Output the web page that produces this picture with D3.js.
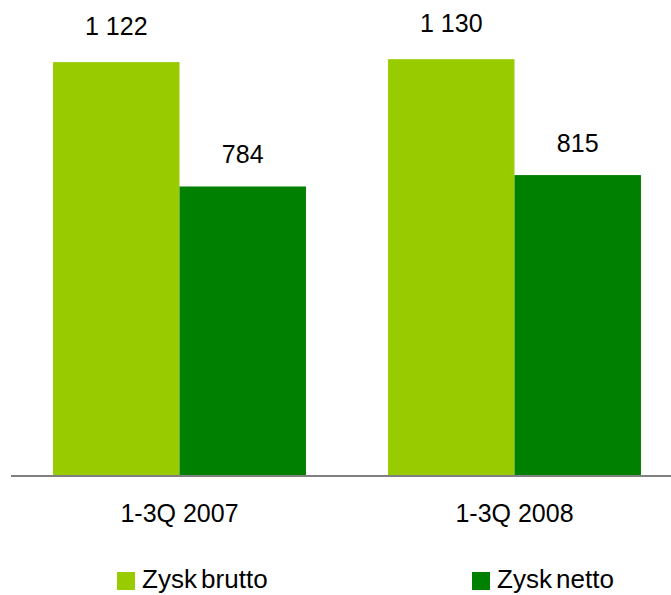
<!DOCTYPE html>
<html>
<head>
<meta charset="utf-8">
<script src="https://cdn.jsdelivr.net/npm/d3@7"></script>
<style>
  body { margin: 0; background: white; }
  text { font-family: "Liberation Sans", Arial, sans-serif; fill: #000; }
</style>
</head>
<body>
<svg id="chart" width="671" height="595"></svg>
<script>
const categories = ["1-3Q 2007", "1-3Q 2008"];
const seriesNames = ["Zysk brutto", "Zysk netto"];
const brutto = [1122, 1130];
const netto = [784, 815];
const valueLabels = [["1 122", "784"], ["1 130", "815"]];
const colours = ["#99cc00", "#008000"];

const svg = d3.select("#chart");

const x0 = d3.scaleBand()
    .domain(categories)
    .range([12, 682])
    .paddingInner(0.245)
    .paddingOuter(0.1225);

const x1 = d3.scaleBand()
    .domain(seriesNames)
    .range([0, x0.bandwidth()]);

const y = d3.scaleLinear()
    .domain([0, 1200])
    .range([475, 33.4]);

const rows = categories.map((c, i) => ({
    cat: c,
    values: [
        { name: seriesNames[0], value: brutto[i], label: valueLabels[i][0], colour: colours[0] },
        { name: seriesNames[1], value: netto[i], label: valueLabels[i][1], colour: colours[1] }
    ]
}));

const groups = svg.selectAll("g.group")
    .data(rows)
    .join("g")
    .attr("class", "group")
    .attr("transform", d => `translate(${x0(d.cat)},0)`);

groups.selectAll("rect")
    .data(d => d.values)
    .join("rect")
    .attr("x", d => x1(d.name))
    .attr("y", d => y(d.value))
    .attr("width", x1.bandwidth())
    .attr("height", d => y(0) - y(d.value))
    .attr("fill", d => d.colour);

groups.selectAll("text.value")
    .data(d => d.values)
    .join("text")
    .attr("class", "value")
    .attr("x", d => x1(d.name) + x1.bandwidth() / 2)
    .attr("y", (d, i) => y(d.value) - (i === 0 ? 27 : 23))
    .attr("text-anchor", "middle")
    .attr("font-size", 25)
    .text(d => d.label);

// axis line
svg.append("line")
    .attr("x1", 11)
    .attr("x2", 671)
    .attr("y1", 476)
    .attr("y2", 476)
    .attr("stroke", "#808080")
    .attr("stroke-width", 2);

svg.selectAll("text.cat")
    .data(categories)
    .join("text")
    .attr("class", "cat")
    .attr("x", d => x0(d) + x0.bandwidth() / 2)
    .attr("y", 522)
    .attr("text-anchor", "middle")
    .attr("font-size", 25)
    .text(d => d);

// legend
const legendX = [117, 472];
const legend = svg.selectAll("g.legend")
    .data(seriesNames)
    .join("g")
    .attr("class", "legend")
    .attr("transform", (d, i) => `translate(${legendX[i]},572)`);

legend.append("rect")
    .attr("width", 18)
    .attr("height", 18)
    .attr("fill", (d, i) => colours[i]);

legend.append("text")
    .attr("x", 25)
    .attr("y", 16)
    .attr("font-size", 26)
    .attr("word-spacing", -3)
    .text(d => d);
</script>
</body>
</html>
